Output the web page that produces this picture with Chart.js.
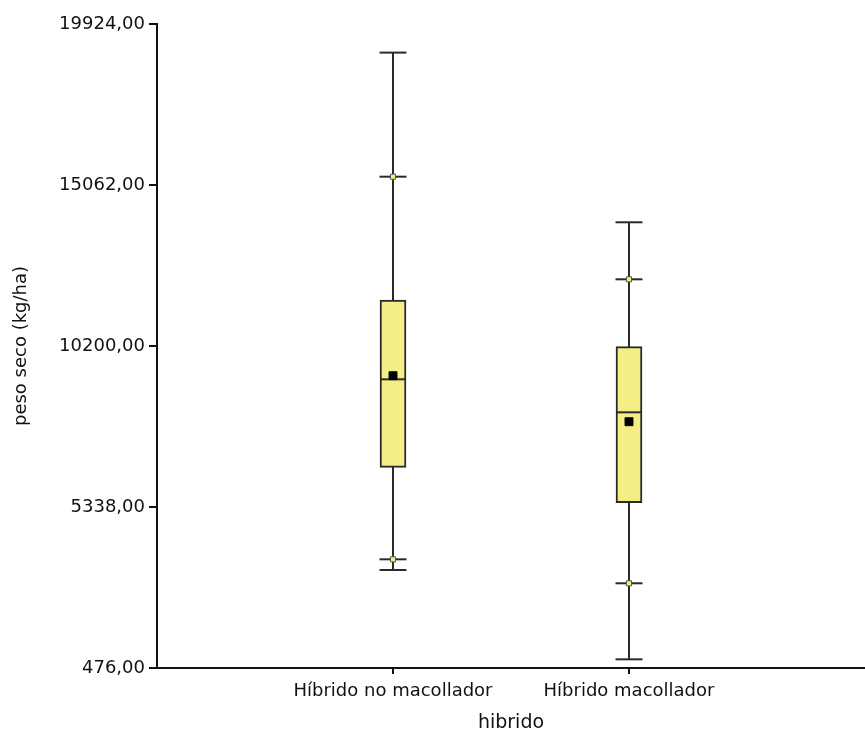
<!DOCTYPE html>
<html>
<head>
<meta charset="utf-8">
<script src="https://cdn.jsdelivr.net/npm/chart.js@4/dist/chart.umd.min.js"></script>
<style>
  html, body { margin: 0; padding: 0; background: #ffffff; }
  #c { display: block; }
</style>
</head>
<body>
<canvas id="c" width="865" height="736"></canvas>
<script>
// ---- data ----
const categories = ['Híbrido no macollador', 'Híbrido macollador'];
const whiskerMin = [3435, 738];
const p5 = [3758, 3034];
const q1 = [6537, 5468];
const median = [9194, 8197];
const mean = [9303, 7914];
const q3 = [11589, 10179];
const p95 = [15313, 12214];
const whiskerMax = [19060, 13936];
const yTicks = [476, 5338, 10200, 15062, 19924];
const yTitle = 'peso seco (kg/ha)';
const xTitle = 'hibrido';

const pos = categories.map((_, i) => i + 1);
const pts = arr => arr.map((v, i) => ({ x: pos[i], y: v }));

const BOX_FILL = '#F4EF84';
const INK = '#2a2a2a';
const TEXT = '#111111';
const FONT = { family: '"DejaVu Sans", sans-serif', size: 18 };

const datasets = [];
// whisker stems
categories.forEach((_, i) => {
  datasets.push({
    type: 'line',
    data: [{ x: pos[i], y: whiskerMin[i] }, { x: pos[i], y: whiskerMax[i] }],
    borderColor: INK, borderWidth: 2, pointRadius: 0, fill: false, order: 10
  });
});
// boxes
datasets.push({
  type: 'bar',
  data: categories.map((_, i) => ({ x: pos[i], y: [q1[i], q3[i]] })),
  backgroundColor: BOX_FILL, borderColor: INK, borderWidth: 2,
  borderSkipped: false, barThickness: 26, grouped: false, order: 9
});
// caps
datasets.push({
  type: 'scatter', data: pts(whiskerMin).concat(pts(whiskerMax)),
  pointStyle: 'line', pointRadius: 13.5, borderColor: INK, borderWidth: 2, order: 5
});
// median
datasets.push({
  type: 'scatter', data: pts(median),
  pointStyle: 'line', pointRadius: 12.5, borderColor: INK, borderWidth: 2, order: 4
});
// percentile crossbars
datasets.push({
  type: 'scatter', data: pts(p5).concat(pts(p95)),
  pointStyle: 'line', pointRadius: 13.5, borderColor: INK, borderWidth: 2, order: 3
});
// percentile markers
datasets.push({
  type: 'scatter', data: pts(p5).concat(pts(p95)),
  pointStyle: 'rect', pointRadius: 3.6, backgroundColor: '#F6F07A', borderColor: '#555', borderWidth: 1, order: 2
});
// mean
datasets.push({
  type: 'scatter', data: pts(mean),
  pointStyle: 'rect', pointRadius: 5.6, backgroundColor: '#000', borderColor: '#000', borderWidth: 1, order: 1
});

new Chart(document.getElementById('c'), {
  type: 'bar',
  data: { datasets },
  options: {
    responsive: false,
    animation: false,
    layout: { autoPadding: false, padding: { top: 24, right: 0, bottom: 0, left: 0 } },
    plugins: { legend: { display: false }, tooltip: { enabled: false } },
    scales: {
      x: {
        type: 'linear', min: 0, max: 3, offset: false,
        afterBuildTicks: s => { s.ticks = pos.map(v => ({ value: v })); },
        afterFit: s => { s.height = 68; s.paddingLeft = 0; s.paddingRight = 0; },
        ticks: {
          color: TEXT, font: FONT, padding: 7, maxRotation: 0, autoSkip: false,
          callback: v => categories[pos.indexOf(v)] ?? ''
        },
        grid: { display: true, drawOnChartArea: false, drawTicks: true, tickLength: 6, color: '#111', lineWidth: 2, offset: false },
        border: { display: true, color: '#111', width: 2 },
        title: { display: true, text: xTitle, color: TEXT, font: { family: FONT.family, size: 19 }, padding: { top: 0, bottom: 2 } }
      },
      y: {
        type: 'linear', min: yTicks[0], max: yTicks[yTicks.length - 1],
        afterBuildTicks: s => { s.ticks = yTicks.map(v => ({ value: v })); },
        afterFit: s => { s.width = 157; },
        ticks: {
          color: TEXT, font: FONT, padding: 4,
          callback: v => v.toFixed(2).replace('.', ',')
        },
        grid: { display: true, drawOnChartArea: false, drawTicks: true, tickLength: 8, color: '#111', lineWidth: 2 },
        border: { display: true, color: '#111', width: 2 },
        title: { display: true, text: yTitle, color: TEXT, font: FONT, padding: { top: 11, bottom: 0 } }
      }
    }
  }
});
</script>
</body>
</html>
